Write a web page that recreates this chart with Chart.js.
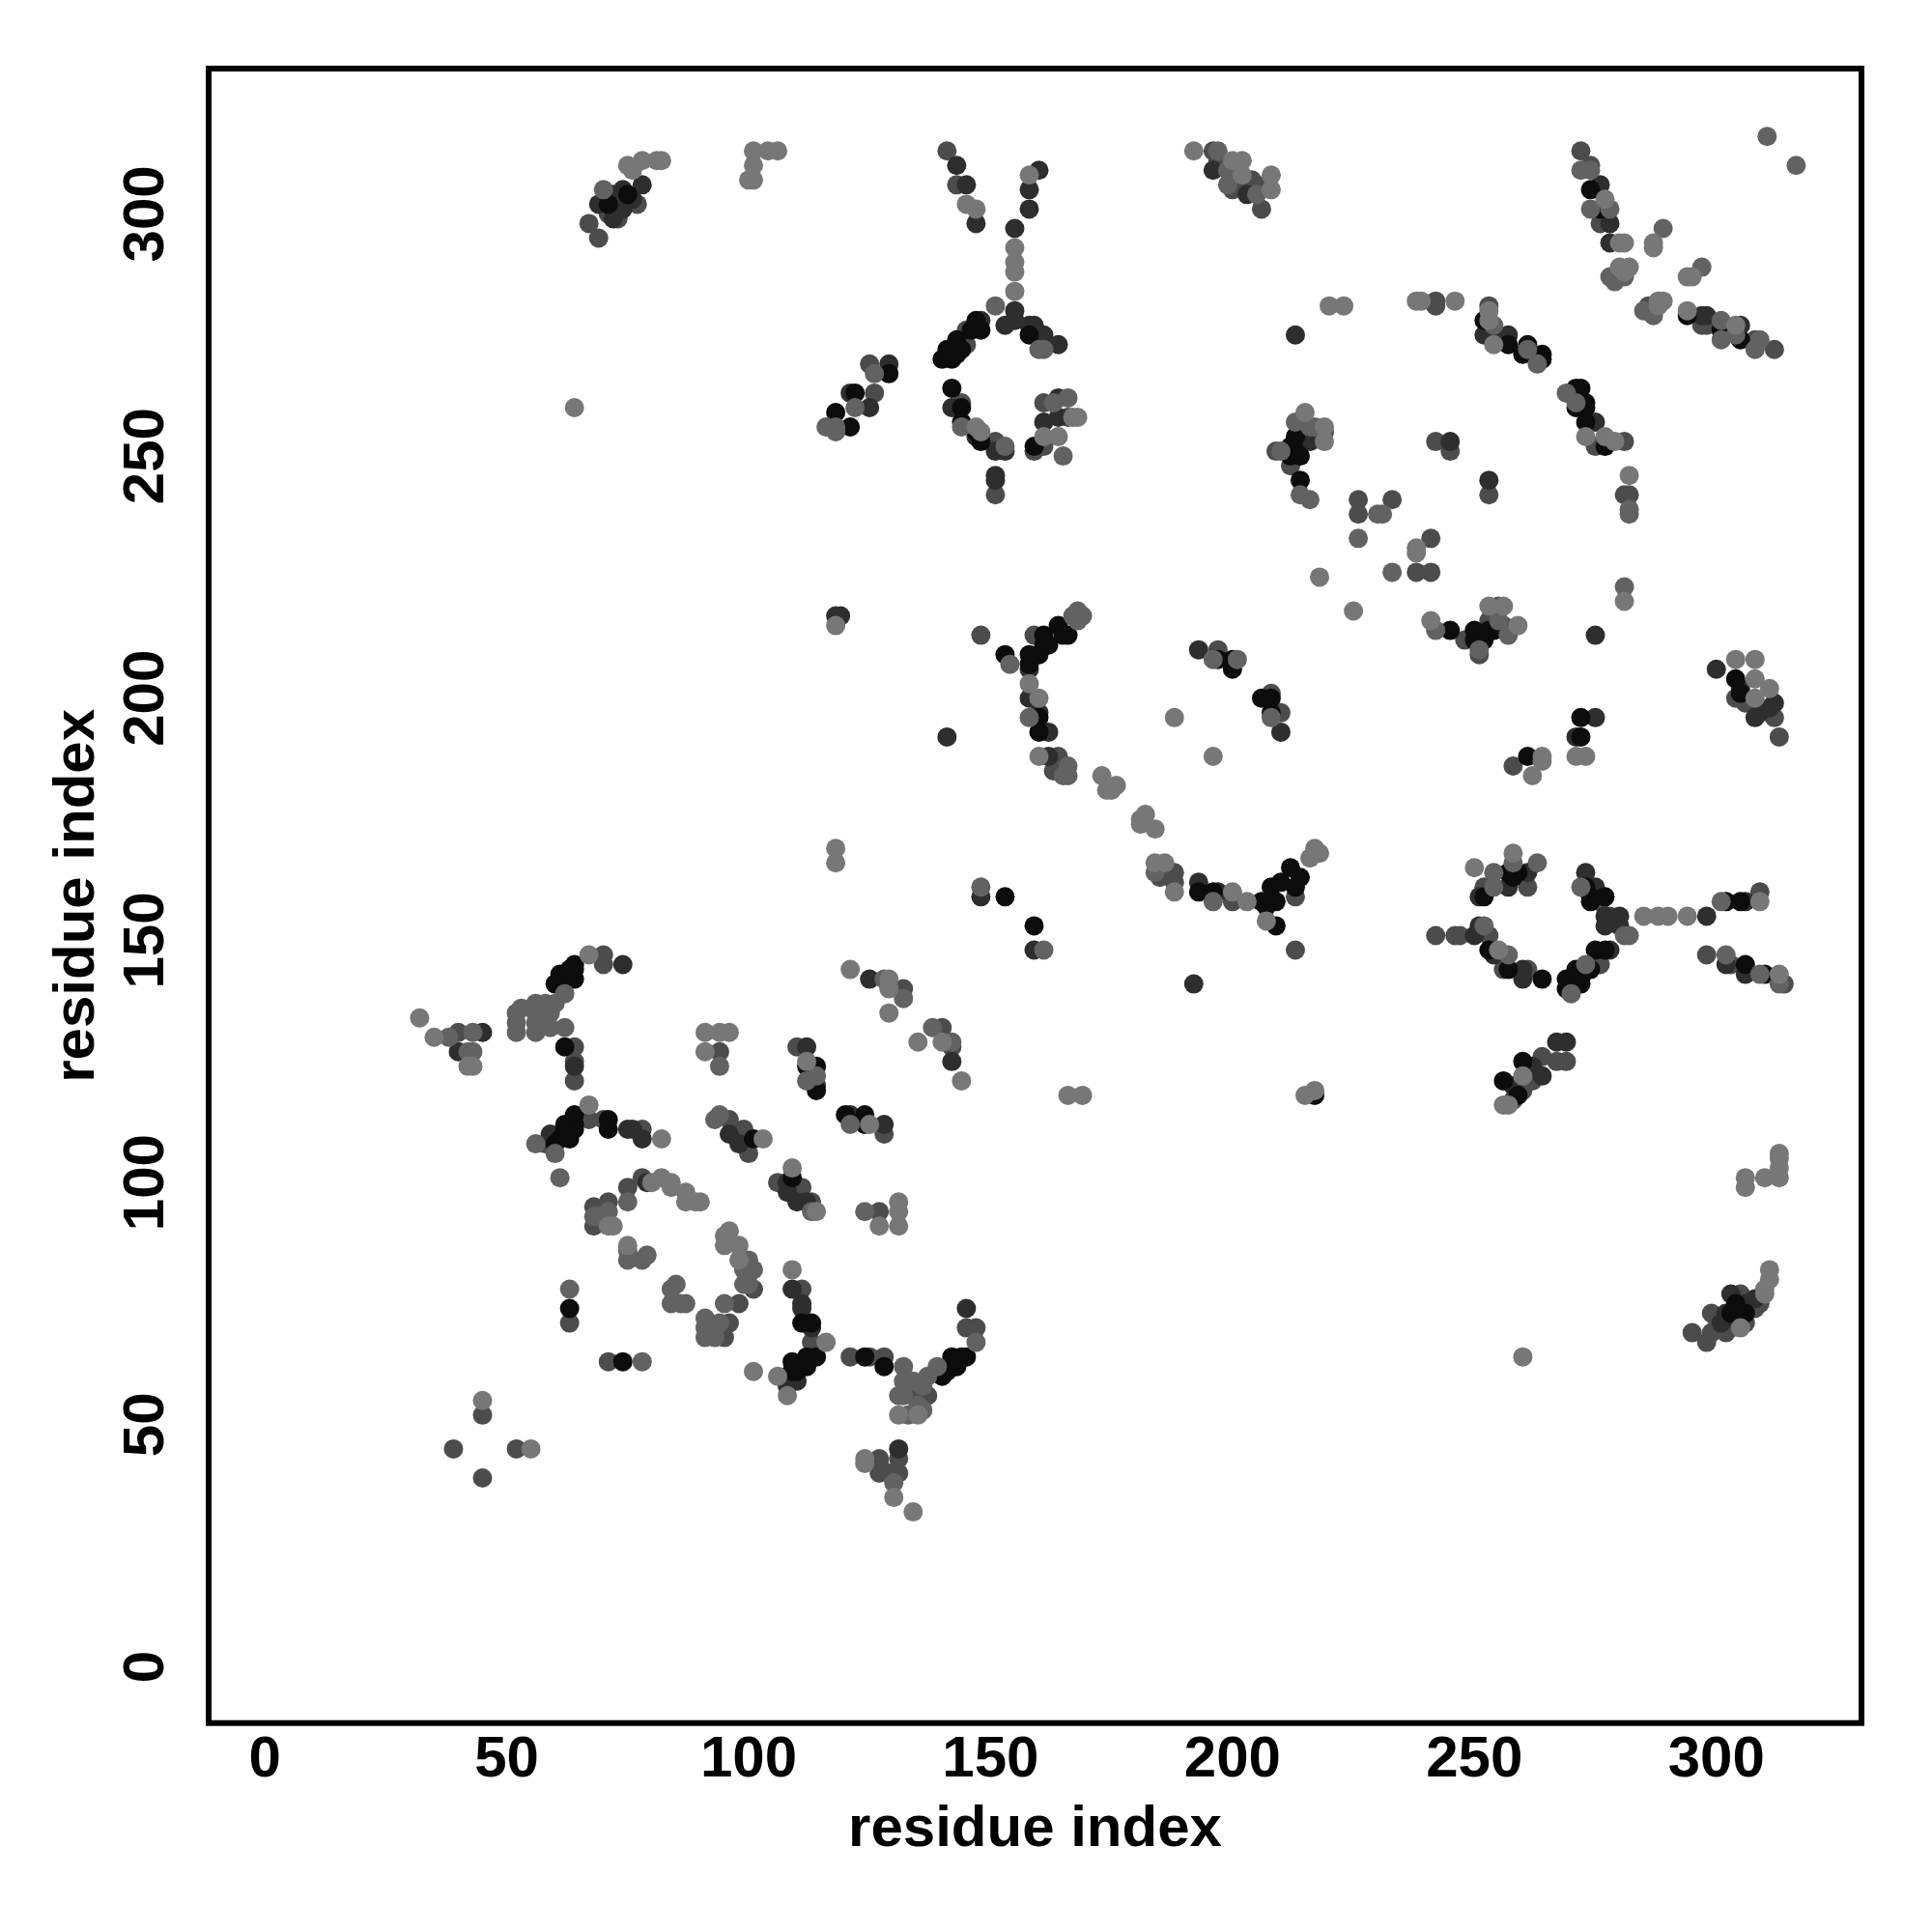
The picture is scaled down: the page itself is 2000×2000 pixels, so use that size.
<!DOCTYPE html>
<html><head><meta charset="utf-8">
<style>html,body{margin:0;padding:0;background:#fff}canvas{display:block}</style>
<script src="https://cdn.jsdelivr.net/npm/chart.js@4/dist/chart.umd.min.js"></script>
</head><body><canvas id="c" width="2000" height="2000"></canvas>
<script>
const xTicks=[0,50,100,150,200,250,300];
const yTicks=[0,50,100,150,200,250,300];
const axisTitle="residue index";
const blackPts=[[62,128],[61,143],[60,141],[62,142],[64,145],[64,142],[64,144],[63,142],[63,144],[64,112],[64,114],[64,111],[62,112],[62,111],[61,109],[63,109],[60,108],[71,113],[71,111],[74,63],[63,74],[113,71],[111,71],[114,64],[112,64],[112,62],[109,63],[109,61],[110,61],[124,64],[128,62],[140,60],[141,61],[142,64],[143,62],[144,64],[145,64],[139,61],[112,124],[114,124],[114,119],[120,114],[124,114],[124,112],[109,101],[101,109],[142,264],[144,260],[144,257],[148,253],[147,255],[148,276],[147,278],[143,274],[144,272],[141,272],[140,270],[142,270],[141,271],[143,271],[146,276],[158,275],[122,263],[118,259],[121,256],[129,267],[159,252],[158,209],[158,207],[160,209],[161,213],[161,211],[162,211],[164,215],[165,213],[166,213],[160,196],[160,193],[193,160],[196,160],[206,158],[208,158],[209,158],[207,157],[209,153],[208,161],[210,162],[212,165],[213,161],[214,163],[153,209],[153,159],[159,153],[200,208],[200,206],[197,208],[206,200],[208,200],[208,197],[257,164],[259,164],[258,163],[252,159],[253,148],[257,144],[264,142],[269,142],[269,140],[270,140],[271,144],[272,142],[272,141],[274,144],[275,148],[277,148],[273,161],[274,159],[274,158],[277,159],[252,278],[257,273],[261,273],[260,271],[264,271],[264,270],[271,264],[272,264],[271,260],[273,261],[273,260],[273,257],[277,252],[213,254],[212,252],[212,250],[214,250],[213,251],[214,245],[245,214],[250,214],[250,212],[251,213],[253,214],[254,214],[252,212],[276,301],[274,305],[294,279],[301,276],[305,274],[306,145],[302,158],[305,158],[310,143],[306,73],[303,73],[304,75],[259,118],[256,121],[260,125],[261,188],[272,192],[272,196],[217,118],[304,204],[75,304],[305,201],[71,302]];
const darkPts=[[45,131],[40,127],[59,110],[64,124],[74,145],[75,111],[76,111],[78,109],[79,100],[109,78],[111,75],[111,74],[108,60],[108,58],[110,59],[145,74],[113,70],[131,45],[125,142],[142,125],[112,128],[114,120],[121,114],[128,112],[108,100],[108,98],[110,96],[112,96],[98,108],[96,110],[155,280],[153,277],[155,278],[158,277],[159,277],[161,275],[164,273],[148,278],[142,260],[147,254],[151,251],[153,251],[151,246],[151,245],[129,269],[121,263],[125,260],[161,257],[164,258],[164,262],[193,210],[158,206],[158,200],[160,197],[162,193],[162,188],[193,162],[197,160],[210,193],[148,159],[159,148],[192,141],[251,159],[257,161],[261,164],[250,151],[251,153],[254,147],[260,144],[260,142],[270,141],[273,164],[275,161],[277,155],[277,153],[280,155],[280,153],[278,148],[298,155],[306,143],[302,145],[306,158],[252,275],[254,275],[257,275],[275,257],[245,253],[253,245],[216,253],[214,253],[275,213],[251,212],[213,275],[143,310],[145,306],[147,298],[155,297],[158,305],[158,301],[160,309],[69,302],[73,302],[78,306],[196,309],[203,304],[276,306],[278,298],[278,294],[297,279],[298,279],[305,277],[300,206],[312,199],[308,196],[271,192],[275,196],[264,122],[267,129],[269,129],[302,73],[303,77],[118,217],[119,217],[141,192],[301,71],[304,72],[306,75],[308,76],[305,202],[309,197],[311,198],[72,304],[74,305],[76,303],[72,299],[74,301],[258,120],[262,124]];
const midPts=[[40,131],[64,128],[64,125],[64,121],[70,147],[70,145],[67,113],[70,113],[78,111],[58,108],[63,71],[68,95],[68,91],[71,96],[75,99],[78,101],[71,63],[111,78],[113,67],[145,70],[147,70],[121,64],[125,64],[128,64],[127,94],[127,43],[127,40],[131,43],[131,40],[129,40],[127,42],[134,56],[137,56],[94,127],[110,128],[140,132],[132,140],[142,128],[128,110],[100,106],[106,100],[111,99],[113,96],[99,111],[96,113],[98,75],[101,78],[96,71],[95,68],[125,269],[126,263],[145,276],[145,273],[144,261],[151,253],[151,242],[161,261],[166,258],[161,252],[159,251],[148,213],[159,213],[163,185],[164,188],[197,210],[200,158],[208,201],[210,197],[185,163],[188,164],[188,162],[213,159],[213,148],[242,151],[246,151],[247,151],[253,151],[261,144],[261,161],[252,161],[256,144],[276,145],[278,155],[276,158],[298,147],[303,145],[309,160],[314,141],[253,281],[226,241],[226,238],[233,241],[241,233],[238,226],[241,226],[242,282],[242,281],[242,253],[245,251],[253,242],[281,242],[282,242],[281,253],[275,252],[248,212],[253,216],[255,219],[256,215],[251,209],[219,255],[214,257],[212,248],[209,251],[272,313],[274,310],[276,298],[286,281],[297,277],[298,277],[308,274],[312,272],[67,298],[69,295],[73,299],[77,302],[71,300],[39,45],[45,52],[45,39],[52,45],[141,313],[143,306],[196,313],[200,305],[205,306],[206,301],[298,67],[264,126],[267,125],[269,125],[258,186],[313,192],[312,196],[304,200],[295,69],[299,73],[299,69],[302,69],[300,72],[308,74],[305,77],[303,70],[306,71],[309,75],[306,199],[197,311],[204,307],[203,305],[258,117],[260,119],[262,121]];
const greyPts=[[38,130],[43,131],[42,127],[43,127],[52,133],[52,135],[53,136],[56,133],[56,135],[56,137],[58,137],[60,137],[59,132],[62,132],[59,135],[62,139],[56,131],[52,131],[56,108],[60,106],[61,101],[68,93],[69,93],[71,94],[75,96],[78,84],[79,85],[75,84],[75,86],[85,79],[84,78],[84,75],[87,75],[86,75],[63,78],[78,63],[91,72],[91,70],[91,68],[93,68],[94,71],[99,79],[100,79],[100,84],[101,82],[99,82],[95,75],[124,94],[132,59],[134,59],[131,56],[132,56],[136,58],[137,60],[139,62],[135,54],[136,53],[133,52],[132,62],[147,67],[130,38],[128,142],[132,138],[94,124],[138,132],[142,129],[121,112],[112,121],[114,122],[93,113],[94,114],[113,94],[151,281],[122,260],[126,267],[118,256],[116,256],[118,255],[160,272],[161,272],[153,252],[166,262],[163,261],[165,250],[144,256],[154,207],[158,196],[166,186],[166,184],[165,184],[167,217],[168,218],[169,217],[168,216],[184,164],[196,158],[148,161],[161,148],[196,208],[201,208],[208,196],[254,164],[258,166],[263,166],[254,161],[272,161],[252,153],[257,147],[273,145],[270,139],[281,151],[282,151],[301,158],[302,147],[309,143],[313,141],[254,277],[261,272],[263,269],[269,263],[271,261],[282,239],[282,238],[281,223],[226,233],[230,238],[231,238],[233,226],[213,257],[216,256],[217,256],[210,251],[216,241],[214,242],[242,214],[251,210],[255,216],[257,213],[272,309],[274,309],[274,301],[278,301],[289,297],[297,289],[278,287],[279,286],[281,287],[285,280],[287,279],[301,278],[301,274],[304,275],[309,274],[308,272],[310.5,316],[316.5,310],[70,305],[197,313],[199,309],[199,306],[205,304]];
const lightPts=[[32,134],[35,130],[42,124],[43,124],[67,147],[67,116],[82,109],[71,91],[72,91],[80,100],[82,101],[84,100],[84,99],[87,98],[87,96],[89,96],[90,96],[75,87],[96,90],[95,89],[95,87],[98,87],[98,84],[109,82],[116,67],[101,61],[106,60],[108,56],[131,96],[131,94],[131,91],[127,91],[124,43],[124,42],[131,52],[135,52],[130,35],[134,32],[121,144],[129,142],[129,140],[129,135],[135,129],[140,129],[144,121],[91,131],[94,131],[96,131],[91,127],[112,125],[125,112],[103,109],[109,103],[114,94],[155,293],[155,290],[155,288],[155,284],[158,308],[147,256],[148,255],[167,258],[168,258],[161,254],[164,254],[158,203],[160,200],[160,188],[173,184],[176,182],[174,181],[175,181],[182,176],[181,175],[181,174],[184,173],[184,166],[186,166],[188,160],[188,196],[196,188],[200,160],[203,158],[207,154],[217,169],[218,168],[216,167],[250,165],[258,168],[255,148],[285,155],[288,155],[290,155],[294,155],[309,158],[313,143],[220,281],[223,281],[238,282],[239,282],[246,282],[253,280],[253,278],[254,273],[273,254],[277,254],[279,253],[282,246],[281,220],[218,225],[225,218],[238,231],[238,230],[215,259],[219,256],[219,253],[241,216],[253,219],[256,219],[259,215],[277,303],[280,294],[281,294],[287,294],[287,293],[294,287],[295,287],[280,289],[282,289],[281,288],[288,282],[289,282],[288,281],[294,280],[304,277],[100,307],[101,307],[101,310],[101,313],[104,313],[106,313],[192,313],[200,311],[202,311],[202,308],[208,308],[208,305],[76,309],[78,311],[81,311],[82,311],[75,310],[145,302],[147,301],[306,101],[306,99],[310,101],[313,101],[313,105],[313,106],[313,103],[310,77],[310,78],[311,82],[311,80],[305,70],[260,64],[264,188],[264,187],[262,184],[271,188],[273,188],[256,116],[257,116],[260,122],[304,208],[308,208],[311,202],[308,204],[308,200],[118,169],[118,166],[118,215],[166,118],[169,118],[215,118],[217,119],[64,260],[45,55],[55,45]];

const FONT="'Liberation Sans',Arial,sans-serif";
const toXY=a=>a.map(p=>({x:p[0],y:p[1]}));
const series=(pts,col)=>({data:toXY(pts),backgroundColor:col,borderWidth:0,pointRadius:10,pointHoverRadius:10});
const frame={id:'frame',afterDatasetsDraw(ch){const a=ch.chartArea,c=ch.ctx;c.save();c.strokeStyle='#000';c.lineWidth=6;c.strokeRect(a.left,a.top,a.right-a.left,a.bottom-a.top);c.restore();}};
const axis=(ticks,isX)=>({
  type:'linear',min:-11.6,max:330,
  afterBuildTicks(s){s.ticks=ticks.map(v=>({value:v}));},
  afterFit(s){if(isX)s.height=216.3;else s.width=216;},
  grid:{display:false,drawOnChartArea:false,drawTicks:true,tickLength:8,tickWidth:3,tickColor:'#000'},
  border:{display:false},
  ticks:isX?{autoSkip:false,maxRotation:0,minRotation:0,padding:-5,color:'#000',font:{family:FONT,weight:'bold',size:60}}
           :{autoSkip:false,minRotation:90,maxRotation:90,crossAlign:'center',padding:5,color:'#000',font:{family:FONT,weight:'bold',size:60}},
  title:{display:true,text:axisTitle,color:'#000',font:{family:FONT,weight:'bold',size:60},
    padding:isX?{top:0,bottom:70}:{top:44,bottom:0}}
});
new Chart(document.getElementById('c'),{
  type:'scatter',
  data:{datasets:[series(lightPts,'#777777'),series(greyPts,'#626262'),series(blackPts,'#0c0c0c'),series(darkPts,'#2e2e2e'),series(midPts,'#4c4c4c')]},
  options:{responsive:false,animation:false,
    layout:{padding:{top:71,right:73,left:0,bottom:0}},
    plugins:{legend:{display:false},tooltip:{enabled:false}},
    scales:{x:axis(xTicks,true),y:axis(yTicks,false)}},
  plugins:[frame]
});
</script></body></html>
